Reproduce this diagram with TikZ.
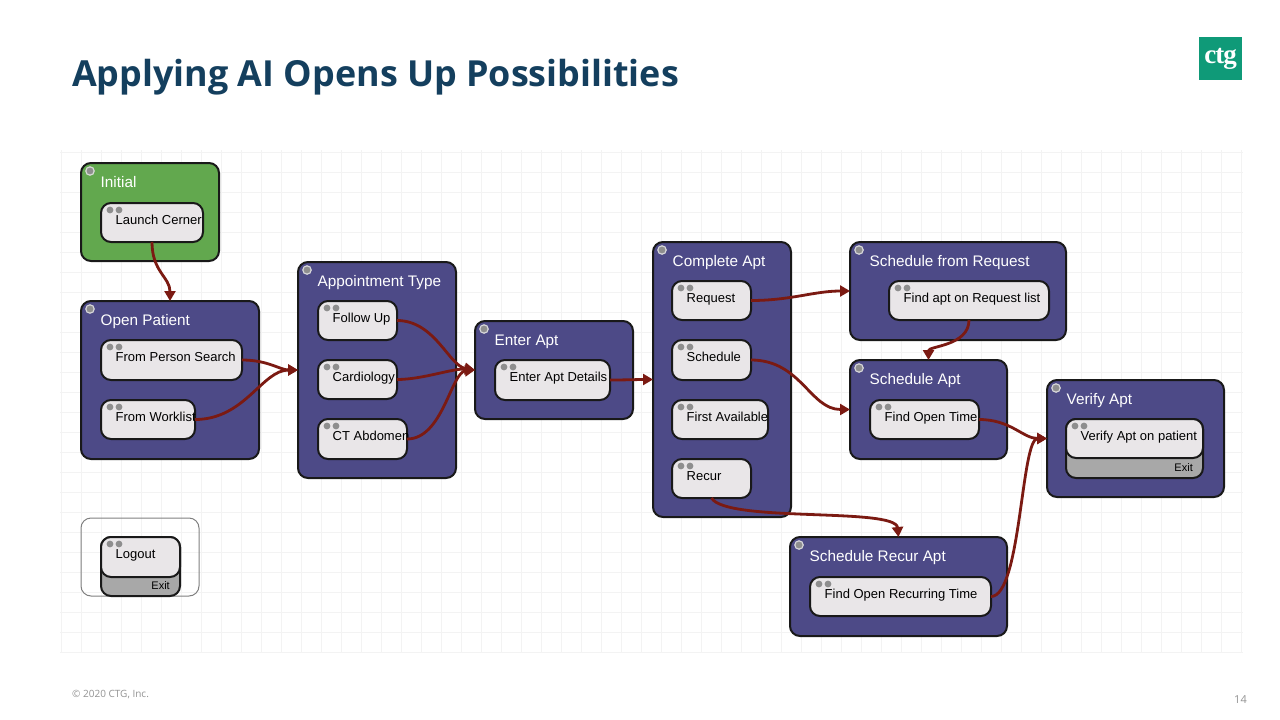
\documentclass[tikz,border=0pt]{standalone}
\usepackage{fontspec}
\setmainfont{Liberation Sans}
\newfontfamily\titlefont{Open Sans}
\newfontfamily\logofont{Liberation Serif}
\usetikzlibrary{arrows.meta}
\definecolor{gridc}{HTML}{F3F3F3}
\definecolor{stateblue}{HTML}{4D4A87}
\definecolor{stategreen}{HTML}{62A84E}
\definecolor{innerc}{HTML}{E9E6E8}
\definecolor{exitc}{HTML}{A8A8A8}
\definecolor{edgec}{HTML}{7B1A12}
\definecolor{titlec}{HTML}{143F5E}
\definecolor{logoc}{HTML}{0F9A78}
\definecolor{dotc}{HTML}{8E8E8E}
\tikzset{
  x=1pt,y=-1pt,
  boxbase/.style={rectangle,inner sep=0pt,outer sep=0pt,rounded corners=10pt},
  groupbox/.style={boxbase,draw=black!90,line width=2pt},
  childbox/.style={boxbase,draw=black!90,line width=2pt,fill=innerc},
  grouptitle/.style={anchor=base west,inner sep=0pt,text=white,font=\fontsize{15.3}{18}\selectfont},
  childtext/.style={anchor=base west,inner sep=0pt,text=black,font=\fontsize{13}{16}\selectfont},
  exittext/.style={anchor=base east,inner sep=0pt,text=black,font=\fontsize{11}{13}\selectfont},
  flow/.style={draw=edgec,line width=2.8pt,-{Triangle[length=10pt,width=11pt]}},
  footer/.style={anchor=base west,inner sep=0pt,text=gray!85,font=\titlefont\fontsize{10}{12}\selectfont},
}
% name, x1, y1, x2, y2, fill, title
\newcommand{\stategroup}[7]{%
  \node[groupbox,fill=#6,minimum width={(#4-#2)*1pt},minimum height={(#5-#3)*1pt}] (#1) at ({(#2+#4)/2},{(#3+#5)/2}) {};
  \fill[dotc] ({#2+9},{#3+8}) circle (3.6pt);
  \draw[gray!30,line width=1.2pt] ({#2+9},{#3+8}) circle (4.2pt);
  \node[grouptitle] (#1-title) at ({#2+19.5},{#3+24.5}) {#7};
}
% name, x1, y1, x2, y2, text
\newcommand{\statechild}[6]{%
  \node[childbox,minimum width={(#4-#2)*1pt},minimum height={(#5-#3)*1pt}] (#1) at ({(#2+#4)/2},{(#3+#5)/2}) {};
  \fill[dotc] ({#2+9},{#3+7}) circle (3.4pt);
  \fill[dotc] ({#2+18},{#3+7}) circle (3.4pt);
  \node[childtext] (#1-text) at ({#2+14.5},{#3+21}) {#6};
}
% name, x1, y1, x2, y2 (outer), yband, text
\newcommand{\exitchild}[7]{%
  \node[childbox,fill=exitc,minimum width={(#4-#2)*1pt},minimum height={(#5-#3)*1pt}] (#1) at ({(#2+#4)/2},{(#3+#5)/2}) {};
  \node[childbox,minimum width={(#4-#2)*1pt},minimum height={(#6-#3)*1pt}] (#1-top) at ({(#2+#4)/2},{(#3+#6)/2}) {};
  \fill[dotc] ({#2+9},{#3+7}) circle (3.4pt);
  \fill[dotc] ({#2+18},{#3+7}) circle (3.4pt);
  \node[childtext] (#1-text) at ({#2+14.5},{#3+21.5}) {#7};
  \node[exittext] (#1-exit) at ({#4-10},{#5-7}) {Exit};
}
\begin{document}
\begin{tikzpicture}
\useasboundingbox (0,0) rectangle (1280,720);
\fill[white] (0,0) rectangle (1280,720);
% grid
\foreach \gx in {61,81,...,1241} \draw[gridc,line width=1pt] (\gx,150) -- (\gx,653);
\foreach \gy in {152,172,...,652} \draw[gridc,line width=1pt] (60,\gy) -- (1243,\gy);
% heading
\node[anchor=base west,inner sep=0pt,text=titlec,font=\titlefont\bfseries\fontsize{35.9}{42}\selectfont] (heading) at (72,86) {Applying AI Opens Up Possibilities};
% logo
\node[rectangle,fill=logoc,minimum width=43pt,minimum height=43pt,inner sep=0pt,text=white,font=\logofont\bfseries\fontsize{27}{28}\selectfont] (logo) at (1220.5,58.5) {\raisebox{-6pt}{c\kern-1pt t\kern-1pt g}};
% groups
\stategroup{initial}{81}{163}{219}{261}{stategreen}{Initial}
\statechild{launch}{101}{203}{203}{242}{Launch Cerner}
\stategroup{open}{81}{301}{259}{459}{stateblue}{Open Patient}
\statechild{person}{101}{340}{242}{380}{From Person Search}
\statechild{worklist}{101}{400}{195}{439}{From Worklist}
\stategroup{appt}{298}{262}{456}{478}{stateblue}{Appointment Type}
\statechild{follow}{318}{301}{397}{340}{Follow Up}
\statechild{cardio}{318}{360}{397}{399}{Cardiology}
\statechild{ct}{318}{419}{407}{459}{CT Abdomen}
\stategroup{enter}{475}{321}{633}{419}{stateblue}{Enter Apt}
\statechild{details}{495}{360}{610}{400}{Enter Apt Details}
\stategroup{complete}{653}{242}{791}{517}{stateblue}{Complete Apt}
\statechild{request}{672}{281}{751}{320}{Request}
\statechild{schedule}{672}{340}{751}{380}{Schedule}
\statechild{first}{672}{400}{768}{439}{First Available}
\statechild{recur}{672}{459}{751}{498}{Recur}
\stategroup{sfr}{850}{242}{1066}{340}{stateblue}{Schedule from Request}
\statechild{findapt}{889}{281}{1049}{320}{Find apt on Request list}
\stategroup{sapt}{850}{360}{1007}{459}{stateblue}{Schedule Apt}
\statechild{findopen}{870}{400}{979}{439}{Find Open Time}
\stategroup{verify}{1047}{380}{1224}{497}{stateblue}{Verify Apt}
\exitchild{verifyin}{1066}{419}{1203}{478}{458}{Verify Apt on patient}
\stategroup{srecur}{790}{537}{1007}{636}{stateblue}{Schedule Recur Apt}
\statechild{findrec}{810}{577}{991}{616}{Find Open Recurring Time}
% logout
\node[boxbase,draw=gray,line width=1pt,minimum width=118pt,minimum height=78pt] (logoutbox) at (140,557) {};
\exitchild{logout}{101}{537}{180}{596}{577}{Logout}
% connectors
\draw[flow] (launch.south) .. controls +(0,30) and +(0,-24) .. (open.north);
\draw[flow] (person.east) .. controls +(26,0) and +(-18,0) .. (appt.west);
\draw[flow] (worklist.east) .. controls +(50,0) and +(-36,0) .. (appt.west);
\draw[flow] (follow.east) .. controls +(38,0) and +(-26,-4) .. (enter.west);
\draw[flow] (cardio.east) .. controls +(26,0) and +(-22,-2) .. (enter.west);
\draw[flow] (ct.east) .. controls +(36,0) and +(-24,2) .. (enter.west);
\draw[flow] (details.east) .. controls +(16,0) and +(-16,0) .. (complete.west);
\draw[flow] (request.east) .. controls +(40,0) and +(-36,0) .. (sfr.west);
\draw[flow] (schedule.east) .. controls +(50,0) and +(-40,0) .. (sapt.west);
\draw[flow] (findapt.south) .. controls +(0,26) and +(0,-14) .. (sapt.north);
\draw[flow] (findopen.east) .. controls +(32,0) and +(-24,0) .. (verify.west);
\draw[flow] (findrec.east) .. controls +(30,0) and +(-26,0) .. (verify.west);
\draw[flow] (recur.south) .. controls +(15,25) and +(-3,-30) .. (srecur.north);
% footer
\node[footer] (copyright) at (72,697) {© 2020 CTG, Inc.};
\node[footer,anchor=base east,font=\titlefont\fontsize{11}{12}\selectfont] (pagenum) at (1247,703) {14};
\end{tikzpicture}
\end{document}
